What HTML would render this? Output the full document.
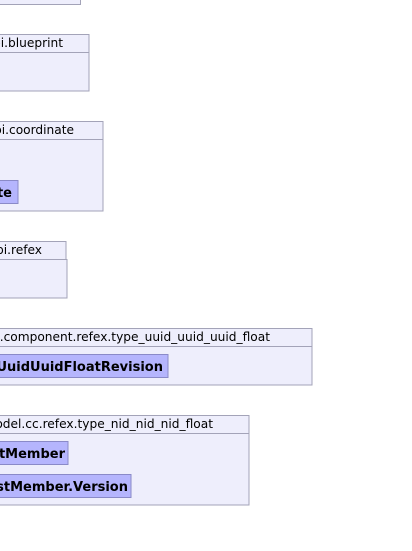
<!DOCTYPE html>
<html><head><style>body{margin:0;background:#fff}svg{display:block}</style></head><body>
<svg width="412" height="551" xmlns="http://www.w3.org/2000/svg" font-family="DejaVu Sans, sans-serif" font-size="12.2">
<g fill="#eeeefc" stroke="#a3a3b8" stroke-width="1">
<rect x="-5" y="-10" width="85.5" height="14.5"/>
<rect x="-5" y="34.5" width="94" height="18"/><rect x="-5" y="52.5" width="94" height="38.5"/>
<rect x="-5" y="121.5" width="108" height="18"/><rect x="-5" y="139.5" width="108" height="71.5"/>
<rect x="-5" y="241.5" width="71" height="18"/><rect x="-5" y="259.5" width="72" height="38.5"/>
<rect x="-5" y="328.5" width="317" height="18"/><rect x="-5" y="346.5" width="317" height="38.5"/>
<rect x="-5" y="415.5" width="254" height="18"/><rect x="-5" y="433.5" width="254" height="71.5"/>
</g>
<g fill="#b5b5fd" stroke="#8a8ac8">
<rect x="-5" y="180.5" width="23" height="23"/>
<rect x="-5" y="354.5" width="173" height="23"/>
<rect x="-5" y="441.5" width="73" height="23"/>
<rect x="-5" y="474.5" width="136" height="23"/>
</g>
<g fill="#000" text-anchor="end">
<text x="63" y="47">api.blueprint</text>
<text x="74" y="134">api.coordinate</text>
<text x="42" y="254">api.refex</text>
<text x="270" y="341">dto.component.refex.type_uuid_uuid_uuid_float</text>
<text x="213" y="428">model.cc.refex.type_nid_nid_nid_float</text>
<g font-weight="bold" font-size="13">
<text x="12" y="197">Coordinate</text>
<text x="163" y="371">UuidUuidUuidFloatRevision</text>
<text x="65" y="458">ListMember</text>
<text x="128" y="491">ListMember.Version</text>
</g></g>
</svg>
</body></html>
